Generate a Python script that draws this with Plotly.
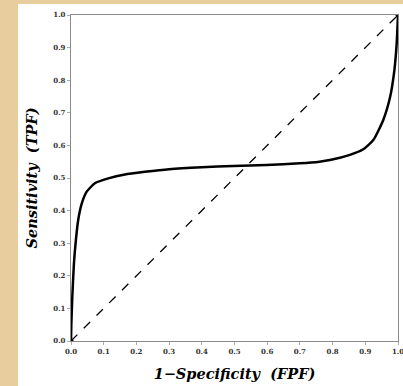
import plotly.graph_objects as go

fpf = [0.0, 0.001, 0.004, 0.009, 0.015, 0.022, 0.033, 0.048, 0.073, 0.114, 0.165, 0.226, 0.30, 0.40, 0.496, 0.598, 0.70, 0.76, 0.792, 0.853, 0.894, 0.925, 0.955, 0.976, 0.989, 0.996, 1.0]
tpf = [0.0, 0.05, 0.136, 0.238, 0.31, 0.371, 0.422, 0.458, 0.484, 0.499, 0.511, 0.519, 0.527, 0.533, 0.537, 0.54, 0.545, 0.55, 0.555, 0.571, 0.588, 0.617, 0.678, 0.749, 0.831, 0.913, 1.0]
diag = [0.0, 1.0]
tick_vals = [0.0, 0.1, 0.2, 0.3, 0.4, 0.5, 0.6, 0.7, 0.8, 0.9, 1.0]
tick_text = ["0.0", "0.1", "0.2", "0.3", "0.4", "0.5", "0.6", "0.7", "0.8", "0.9", "1.0"]

fig = go.Figure()
fig.add_trace(go.Scatter(x=diag, y=diag, mode="lines",
                         line=dict(color="black", width=1.3, dash="dash"), showlegend=False))
fig.add_trace(go.Scatter(x=fpf, y=tpf, mode="lines", line_shape="spline",
                         line=dict(color="black", width=2.5, smoothing=0.5), showlegend=False))
fig.add_trace(go.Scatter(x=diag, y=diag, mode="markers",
                         marker=dict(color="black", size=5), showlegend=False))

L, R, T, B = 71, 5, 15, 45
W, H = 403, 386
pw, ph = W - L - R, H - T - B
fig.add_shape(type="rect", xref="paper", yref="paper", layer="below",
              x0=(18 - L) / pw, x1=(W - L) / pw,
              y0=(H - B - H) / ph, y1=(H - B - 4) / ph,
              fillcolor="white", line=dict(width=0))

axis_common = dict(range=[0, 1], tickvals=tick_vals, ticktext=tick_text,
                   showgrid=False, zeroline=False, showline=True, mirror=True,
                   linecolor="#8a8a8a", linewidth=1.2, ticks="outside", ticklen=3,
                   tickcolor="#aaaaaa", automargin=False, ticklabeloverflow="allow",
                   tickfont=dict(family="DejaVu Serif", size=7, color="#333333",
                                 weight="bold"))

fig.update_layout(
    width=W, height=H,
    margin=dict(l=L, r=R, t=T, b=B),
    paper_bgcolor="#E8CD9E",
    plot_bgcolor="white",
    xaxis=dict(**axis_common,
               title=dict(text="<b><i>1\u2212Specificity  (FPF)</i></b>", standoff=14,
                          font=dict(family="DejaVu Serif", size=14.5, color="black"))),
    yaxis=dict(**axis_common,
               title=dict(text="<b><i>Sensitivity  (TPF)</i></b>", standoff=12,
                          font=dict(family="DejaVu Serif", size=14.5, color="black"))),
)
fig.write_html("out.html")
